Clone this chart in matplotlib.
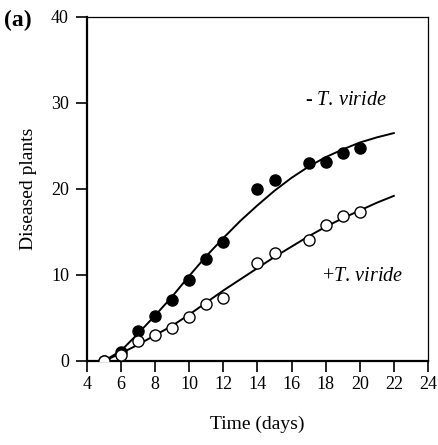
import numpy as np
import matplotlib
matplotlib.use("Agg")
import matplotlib.pyplot as plt

# ------------------------------------------------------------
# Disease progress, with / without T. viride
# ------------------------------------------------------------
plt.rcParams["font.family"] = ["Liberation Serif", "DejaVu Serif"]
plt.rcParams["mathtext.fontset"] = "custom"
plt.rcParams["mathtext.rm"] = "Liberation Serif"
plt.rcParams["mathtext.it"] = "Liberation Serif:italic"

# observed points
DAYS = [5, 6, 7, 8, 9, 10, 11, 12, 14, 15, 17, 18, 19, 20]
MINUS_TV = [0.0, 1.1, 3.5, 5.2, 7.1, 9.4, 11.9, 13.8, 20.0, 21.1, 23.0, 23.1, 24.2, 24.8]
PLUS_TV = [0.0, 0.7, 2.3, 3.0, 3.8, 5.1, 6.6, 7.3, 11.4, 12.6, 14.1, 15.8, 16.9, 17.3]

FIT_DAYS = [5, 6, 7, 8, 9, 10, 11, 12, 13, 14, 15, 16, 17, 18, 19, 20, 21, 22]
FIT_MINUS = [0.0, 1.2, 3.2, 5.3, 7.5, 9.9, 12.2, 14.3, 16.3, 18.1, 19.8, 21.3,
             22.6, 23.7, 24.6, 25.4, 26.0, 26.5]
FIT_PLUS = [0.0, 0.9, 1.9, 3.0, 4.1, 5.4, 6.8, 8.2, 9.5, 10.8, 12.1, 13.3,
            14.5, 15.6, 16.6, 17.5, 18.4, 19.2]

X_TICKS = list(range(4, 25, 2))
Y_TICKS = [0, 10, 20, 30, 40]

fig = plt.figure(figsize=(4.38, 4.45), dpi=100)
ax = fig.add_axes([0.1986, 0.1888, 0.7784, 0.773])

ax.plot(FIT_DAYS, FIT_MINUS, color="black", lw=1.4, zorder=2)
ax.plot(FIT_DAYS, FIT_PLUS, color="black", lw=1.4, zorder=2)
ax.plot(DAYS, MINUS_TV, "o", color="black", ms=8, zorder=3)
ax.plot(DAYS, PLUS_TV, "o", mfc="white", mec="black", mew=1.0, ms=8, zorder=4)

ax.set_xlim(4, 24)
ax.set_ylim(0, 40)
ax.set_xticks(X_TICKS)
ax.set_yticks(Y_TICKS)
ax.tick_params(direction="out", length=8, width=1.2, labelsize=13, pad=3, color="black")
ax.tick_params(axis="y", pad=5)

for side in ["left", "bottom"]:
    ax.spines[side].set_linewidth(1.6)
for side in ["top", "right"]:
    ax.spines[side].set_linewidth(0.9)

ax.set_xlabel("Time (days)", fontsize=14, labelpad=16)
ax.set_ylabel("Diseased plants", fontsize=14, labelpad=10)

ax.text(16.8, 30.3, r"- $\mathit{T.\,viride}$", fontsize=14.5, va="center", ha="left")
ax.text(17.8, 9.8, r"+$\mathit{T.\,viride}$", fontsize=14.5, va="center", ha="left")

fig.text(0.01, 0.955, "(a)", fontsize=17, fontweight="bold", va="center", ha="left")

fig.savefig("out.png", dpi=100)
